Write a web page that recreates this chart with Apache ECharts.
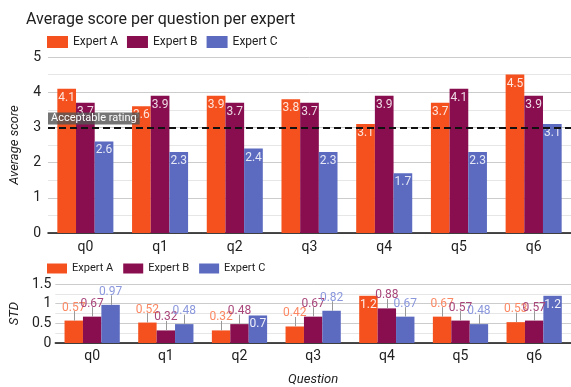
<!DOCTYPE html>
<html>
<head>
<meta charset="utf-8">
<script src="https://cdn.jsdelivr.net/npm/echarts@6/dist/echarts.min.js"></script>
<style>
  html, body { margin: 0; padding: 0; background: #fff; }
  #chart { width: 571px; height: 387px; }
</style>
</head>
<body>
<div id="chart"></div>
<script>
// Question labels shared by both panels
const questions = ['q0', 'q1', 'q2', 'q3', 'q4', 'q5', 'q6'];
const experts = ['Expert A', 'Expert B', 'Expert C'];

// Mean score per question
const avgA = [4.1, 3.6, 3.9, 3.8, 3.1, 3.7, 4.5];
const avgB = [3.7, 3.9, 3.7, 3.7, 3.9, 4.1, 3.9];
const avgC = [2.6, 2.3, 2.4, 2.3, 1.7, 2.3, 3.1];

// Standard deviation per question
const stdA = [0.57, 0.52, 0.32, 0.42, 1.2, 0.67, 0.53];
const stdB = [0.67, 0.32, 0.48, 0.67, 0.88, 0.57, 0.57];
const stdC = [0.97, 0.48, 0.7, 0.82, 0.67, 0.48, 1.2];

// Threshold drawn as a dashed reference line
const acceptable = 3;

const barColors = ['#f4511e', '#880e4f', '#5c6bc0'];
const stdLabelColors = ['#fb8862', '#a8467a', '#8a97dc'];
// Bars whose STD label sits inside the bar instead of on a stem above it
const insideLabels = [[4], [], [2, 6]];

const FONT = 'Roboto, "Noto Sans", sans-serif';
const GRID_LEFT = 41.5, GRID_W = 532;
const CATEGORY_GAP = 0.25;   // share of each category band left empty
const STEM = 9.5;            // stem length above a bar, px

function avgSeries(name, values, idx) {
  const s = {
    name: name,
    type: 'bar',
    xAxisIndex: 0, yAxisIndex: 0,
    data: values,
    barGap: '0%',
    barCategoryGap: (CATEGORY_GAP * 100) + '%',
    itemStyle: { color: barColors[idx] },
    label: {
      show: true, position: 'insideTop', distance: 3,
      color: 'rgba(255,255,255,0.85)', fontSize: 12, fontFamily: FONT
    }
  };
  if (idx === 0) {
    s.markLine = {
      silent: true,
      symbol: 'none',
      data: [{ yAxis: acceptable }],
      lineStyle: { color: '#111', type: [7, 4], width: 2 },
      label: {
        show: true, position: 'insideStartTop', distance: [0, 3],
        formatter: 'Acceptable rating',
        color: '#fff', fontSize: 11, lineHeight: 12, fontFamily: FONT,
        backgroundColor: 'rgba(85,85,85,0.82)', padding: [0, 3, 0, 3]
      }
    };
  }
  return s;
}

function stdSeries(name, values, idx) {
  return {
    name: name,
    type: 'bar',
    xAxisIndex: 1, yAxisIndex: 1,
    barGap: '0%',
    barCategoryGap: (CATEGORY_GAP * 100) + '%',
    itemStyle: { color: barColors[idx] },
    data: values.map(function (v, i) {
      const inside = insideLabels[idx].indexOf(i) >= 0;
      return {
        value: v,
        label: inside ? {
          show: true, position: 'insideTop', distance: 3,
          color: 'rgba(255,255,255,0.9)', fontSize: 12, fontFamily: FONT
        } : {
          show: true, position: 'top', distance: 7,
          color: stdLabelColors[idx], fontSize: 12, fontFamily: FONT
        }
      };
    })
  };
}

// Thin grey stems joining each outside STD label to its bar
const stemData = [];
[stdA, stdB, stdC].forEach(function (vals, s) {
  vals.forEach(function (v, i) {
    if (insideLabels[s].indexOf(i) < 0) stemData.push([i, v, s]);
  });
});

const stemSeries = {
  type: 'custom',
  xAxisIndex: 1, yAxisIndex: 1,
  silent: true, z: 5,
  data: stemData,
  renderItem: function (params, api) {
    const top = api.coord([api.value(0), api.value(1)]);
    const band = api.size([1, 0])[0];
    const barW = band * (1 - CATEGORY_GAP) / 3;
    const x = Math.round(top[0] + (api.value(2) - 1) * barW) + 0.5;
    return {
      type: 'line',
      shape: { x1: x, y1: top[1], x2: x, y2: top[1] - STEM },
      style: { stroke: '#999', lineWidth: 1 }
    };
  }
};

const chart = echarts.init(document.getElementById('chart'), null, { renderer: 'canvas' });

chart.setOption({
  animation: false,
  textStyle: { fontFamily: FONT },
  title: {
    text: 'Average score per question per expert',
    left: 21, top: 7,
    textStyle: { fontSize: 16, fontWeight: 'normal', color: '#212121', fontFamily: FONT }
  },
  legend: [
    {
      data: experts, left: 42, top: 31,
      icon: 'rect', itemWidth: 21, itemHeight: 12, itemGap: 9,
      textStyle: { fontSize: 12, color: '#222', fontFamily: FONT }
    },
    {
      data: experts, left: 42, top: 258,
      icon: 'rect', itemWidth: 20, itemHeight: 10, itemGap: 10,
      textStyle: { fontSize: 11, color: '#222', fontFamily: FONT }
    }
  ],
  grid: [
    { left: GRID_LEFT, width: GRID_W, top: 57, height: 176 },
    { left: GRID_LEFT, width: GRID_W, top: 284, height: 65.3 }
  ],
  xAxis: [
    {
      type: 'category', gridIndex: 0, data: questions,
      axisTick: { show: false },
      axisLine: { lineStyle: { color: '#111', width: 1.5 } },
      axisLabel: { color: '#222', fontSize: 14, margin: 7, fontFamily: FONT }
    },
    {
      type: 'category', gridIndex: 1, data: questions,
      name: 'Question', nameLocation: 'middle', nameGap: 30,
      nameTextStyle: { fontStyle: 'italic', fontSize: 13, color: '#222', fontFamily: FONT },
      axisTick: { show: false },
      axisLine: { lineStyle: { color: '#111', width: 1.5 } },
      axisLabel: { color: '#222', fontSize: 14, margin: 6, fontFamily: FONT }
    }
  ],
  yAxis: [
    {
      type: 'value', gridIndex: 0, min: 0, max: 5, interval: 1,
      name: 'Average score', nameLocation: 'middle', nameGap: 27,
      nameTextStyle: { fontStyle: 'italic', fontSize: 13, color: '#222', fontFamily: FONT },
      axisLine: { show: false }, axisTick: { show: false },
      axisLabel: { color: '#222', fontSize: 14, margin: 7, fontFamily: FONT },
      splitLine: { lineStyle: { color: '#cccccc' } },
      minorTick: { show: false, splitNumber: 2 },
      minorSplitLine: { show: true, lineStyle: { color: '#e6e6e6' } }
    },
    {
      type: 'value', gridIndex: 1, min: 0, max: 1.5, interval: 0.5,
      name: 'STD', nameLocation: 'middle', nameGap: 30,
      nameTextStyle: { fontStyle: 'italic', fontSize: 13, color: '#222', fontFamily: FONT },
      axisLine: { show: false }, axisTick: { show: false },
      axisLabel: { color: '#222', fontSize: 14, margin: 4, fontFamily: FONT },
      splitLine: { lineStyle: { color: '#cccccc' } },
      minorTick: { show: false, splitNumber: 2 },
      minorSplitLine: { show: true, lineStyle: { color: '#e6e6e6' } }
    }
  ],
  series: [
    avgSeries(experts[0], avgA, 0),
    avgSeries(experts[1], avgB, 1),
    avgSeries(experts[2], avgC, 2),
    stdSeries(experts[0], stdA, 0),
    stdSeries(experts[1], stdB, 1),
    stdSeries(experts[2], stdC, 2),
    stemSeries
  ]
});
</script>
</body>
</html>
